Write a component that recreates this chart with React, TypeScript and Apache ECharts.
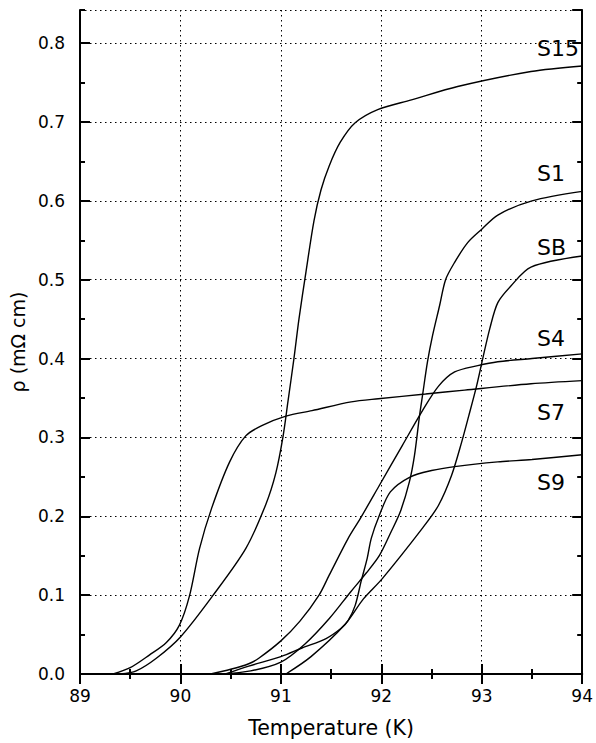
import React, { useEffect, useRef } from "react";
import * as echarts from "echarts";

const xTicks = [89, 90, 91, 92, 93, 94];
const yTickLabels = ["0.0", "0.1", "0.2", "0.3", "0.4", "0.5", "0.6", "0.7", "0.8"];

const S15: [number, number][] = [
  [89.4, 0], [89.56, 0.004], [89.76, 0.02], [90.0, 0.047], [90.32, 0.099], [90.65, 0.159],
  [90.85, 0.215], [90.95, 0.255], [91.02, 0.3], [91.07, 0.345], [91.13, 0.4], [91.18, 0.45],
  [91.25, 0.51], [91.33, 0.575], [91.4, 0.614], [91.48, 0.644], [91.59, 0.674], [91.74, 0.699],
  [91.97, 0.716], [92.3, 0.728], [92.76, 0.745], [93.49, 0.764], [94.0, 0.771],
];
const S1: [number, number][] = [
  [90.4, 0], [90.7, 0.004], [91.0, 0.015], [91.24, 0.038], [91.48, 0.07], [91.7, 0.105],
  [91.85, 0.128], [91.98, 0.15], [92.1, 0.181], [92.19, 0.206], [92.28, 0.244], [92.33, 0.277],
  [92.38, 0.327], [92.41, 0.353], [92.46, 0.396], [92.51, 0.429], [92.58, 0.467], [92.64, 0.5],
  [92.73, 0.522], [92.86, 0.547], [93.0, 0.564], [93.16, 0.582], [93.5, 0.6], [94.0, 0.612],
];
const SB: [number, number][] = [
  [91.05, 0], [91.3, 0.022], [91.64, 0.063], [91.82, 0.095], [92.01, 0.121], [92.41, 0.185],
  [92.57, 0.214], [92.7, 0.252], [92.8, 0.294], [92.87, 0.327], [92.95, 0.366], [93.01, 0.4],
  [93.08, 0.438], [93.16, 0.471], [93.29, 0.492], [93.49, 0.516], [94.0, 0.53],
];
const S4: [number, number][] = [
  [90.3, 0], [90.5, 0.006], [90.68, 0.013], [90.78, 0.02], [91.0, 0.042], [91.19, 0.067],
  [91.38, 0.1], [91.48, 0.125], [91.67, 0.172], [91.79, 0.197], [91.98, 0.239], [92.21, 0.29],
  [92.41, 0.334], [92.57, 0.365], [92.73, 0.383], [92.96, 0.391], [93.16, 0.396], [93.5, 0.4],
  [94.0, 0.406],
];
const S7: [number, number][] = [
  [89.33, 0], [89.5, 0.008], [89.69, 0.024], [89.86, 0.04], [89.99, 0.062], [90.09, 0.099],
  [90.19, 0.159], [90.31, 0.21], [90.49, 0.269], [90.65, 0.302], [90.81, 0.315], [91.05, 0.327],
  [91.31, 0.334], [91.7, 0.345], [91.97, 0.349], [92.44, 0.355], [92.83, 0.36], [93.49, 0.368],
  [94.0, 0.372],
];
const S9: [number, number][] = [
  [90.45, 0], [90.68, 0.01], [91.0, 0.022], [91.21, 0.033], [91.45, 0.045], [91.6, 0.058],
  [91.67, 0.068], [91.74, 0.087], [91.8, 0.118], [91.86, 0.147], [91.9, 0.172], [91.98, 0.201],
  [92.09, 0.231], [92.29, 0.25], [92.5, 0.258], [92.73, 0.263], [93.16, 0.269], [93.5, 0.272],
  [94.0, 0.278],
];

const seriesNames = ["S15", "S1", "SB", "S4", "S7", "S9"];
const seriesData = [S15, S1, SB, S4, S7, S9];
const labelY = [48, 173, 247, 338, 412, 482];

const FONT = "DejaVu Sans";

export default function App() {
  const ref = useRef<HTMLDivElement>(null);
  useEffect(() => {
    if (!ref.current) return;
    const chart = echarts.init(ref.current, null, { renderer: "svg" });
    const axisLine = { show: true, lineStyle: { color: "#000", width: 2 } };
    const tickMajor = { show: true, inside: true, length: 10, lineStyle: { color: "#000", width: 2 } };
    const tickMinor = { show: true, splitNumber: 2, length: 5, lineStyle: { color: "#000", width: 2 } };
    const grid = { show: true, lineStyle: { color: "#000", width: 1, type: [1.5, 3.5] } };
    const yMax = 0.842;
    const option: any = {
      animation: false,
      backgroundColor: "#fff",
      grid: { left: 80, right: 11, top: 10, bottom: 67 },
      xAxis: [
        {
          type: "value", min: 89, max: 94, interval: 1, position: "bottom",
          axisLine, axisTick: tickMajor, minorTick: tickMinor, splitLine: grid,
          axisLabel: {
            color: "#000", fontFamily: FONT, fontSize: 17, margin: 13,
            formatter: (v: number) => (xTicks.includes(v) ? String(v) : ""),
          },
          name: "Temperature (K)", nameLocation: "middle", nameGap: 43,
          nameTextStyle: { color: "#000", fontFamily: FONT, fontSize: 20.5 },
        },
        {
          type: "value", min: 89, max: 94, interval: 1, position: "top",
          axisLine, axisTick: tickMajor, minorTick: tickMinor,
          splitLine: { show: false }, axisLabel: { show: false },
        },
      ],
      yAxis: [
        {
          type: "value", min: 0, max: yMax, interval: 0.1, position: "left",
          axisLine, axisTick: tickMajor, splitLine: grid,
          axisLabel: {
            color: "#000", fontFamily: FONT, fontSize: 17, margin: 15, showMaxLabel: false,
            formatter: (v: number) => {
              const i = Math.round(v * 10);
              return Math.abs(v * 10 - i) < 1e-6 && i < yTickLabels.length ? yTickLabels[i] : "";
            },
          },
          name: "ρ (mΩ cm)", nameLocation: "middle", nameGap: 50,
          nameTextStyle: { color: "#000", fontFamily: FONT, fontSize: 19 },
        },
        {
          type: "value", min: 0, max: yMax, interval: 0.05, position: "left",
          axisLine: { show: false }, axisTick: { show: true, inside: true, length: 5, lineStyle: { color: "#000", width: 2 } },
          splitLine: { show: false }, axisLabel: { show: false },
        },
        {
          type: "value", min: 0, max: yMax, interval: 0.1, position: "right",
          axisLine, axisTick: tickMajor, splitLine: { show: false }, axisLabel: { show: false },
        },
        {
          type: "value", min: 0, max: yMax, interval: 0.05, position: "right",
          axisLine: { show: false }, axisTick: { show: true, inside: true, length: 5, lineStyle: { color: "#000", width: 2 } },
          splitLine: { show: false }, axisLabel: { show: false },
        },
      ],
      series: seriesData.map((d, i) => ({
        name: seriesNames[i],
        type: "line",
        data: d,
        xAxisIndex: 0,
        yAxisIndex: 0,
        symbol: "none",
        smooth: 0.3,
        lineStyle: { color: "#000", width: 1.4 },
        z: 5,
      })),
      graphic: seriesNames.map((n, i) => ({
        type: "text",
        x: 537,
        y: labelY[i],
        style: {
          text: n, fill: "#000", font: `22px "${FONT}"`,
          textAlign: "left", textVerticalAlign: "middle",
        },
        z: 10,
      })),
    };
    chart.setOption(option);
    return () => chart.dispose();
  }, []);
  return (
    <div
      ref={ref}
      style={{ position: "fixed", left: 0, top: 0, width: 596, height: 743, background: "#fff" }}
    />
  );
}
